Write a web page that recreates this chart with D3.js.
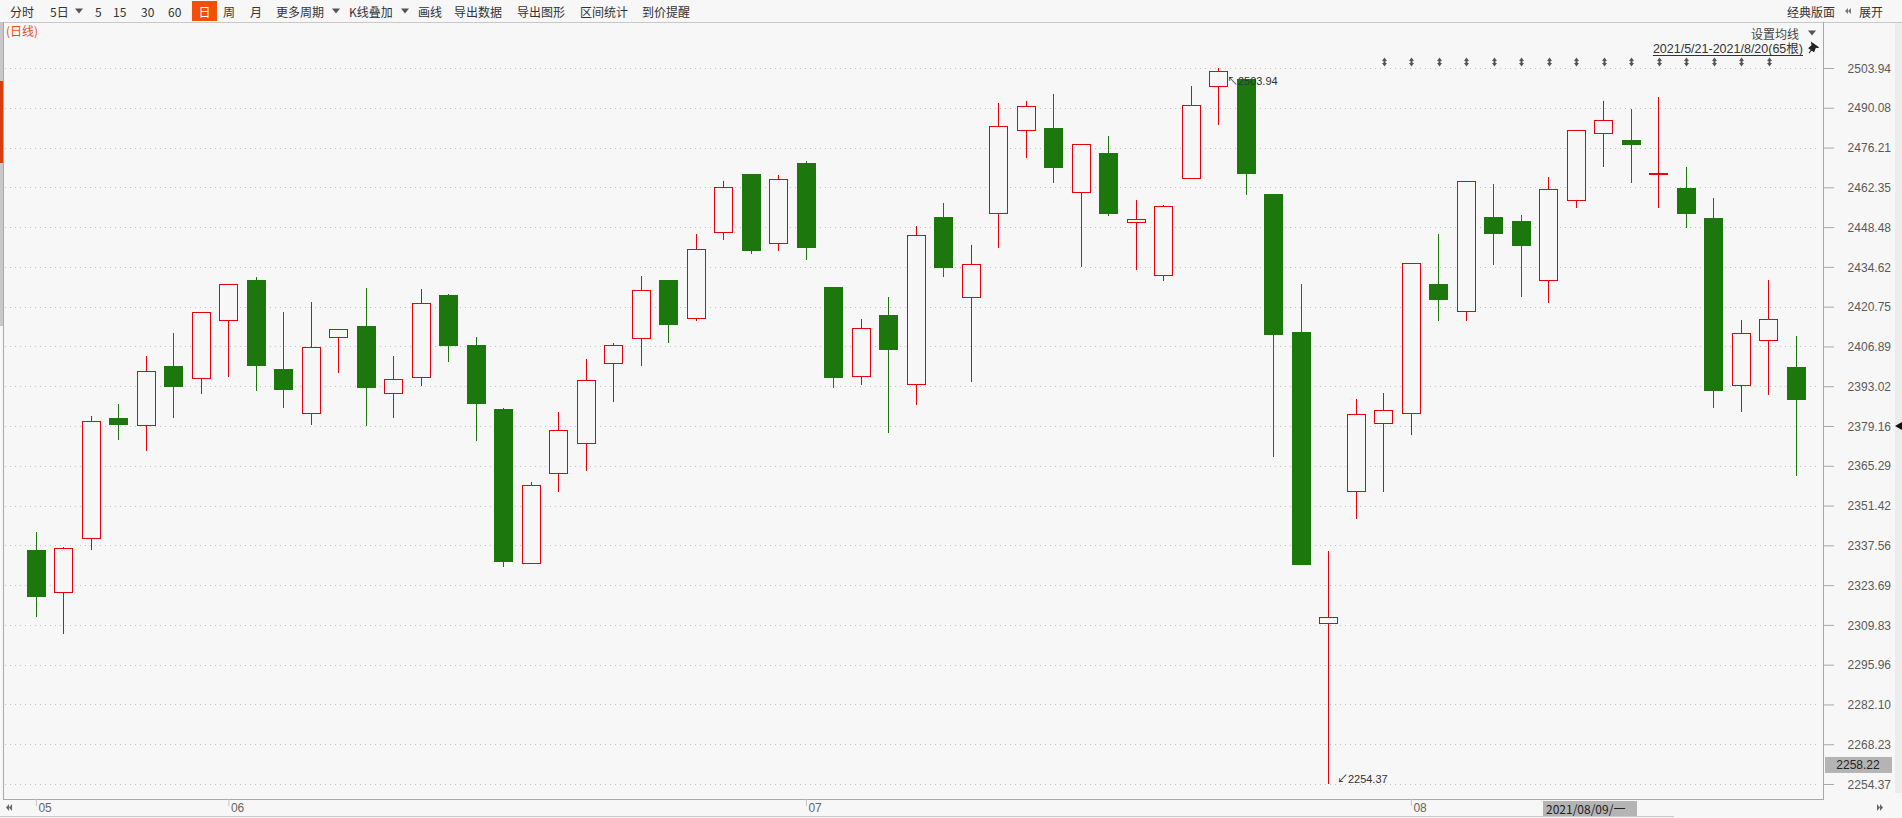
<!DOCTYPE html>
<html><head><meta charset="utf-8">
<script src="https://cdn.jsdelivr.net/npm/d3@7/dist/d3.min.js"></script>
<style>html,body{margin:0;padding:0;background:#f7f7f7;overflow:hidden}</style>
</head><body>
<svg id="c" width="1902" height="818"></svg>
<script>
// ---------------- DATA ----------------
const dates = [
 "2021-05-21","2021-05-24","2021-05-25","2021-05-26","2021-05-27","2021-05-28","2021-05-31",
 "2021-06-01","2021-06-02","2021-06-03","2021-06-04","2021-06-07","2021-06-08","2021-06-09","2021-06-10","2021-06-11",
 "2021-06-15","2021-06-16","2021-06-17","2021-06-18","2021-06-21","2021-06-22","2021-06-23","2021-06-24","2021-06-25",
 "2021-06-28","2021-06-29","2021-06-30",
 "2021-07-01","2021-07-02","2021-07-05","2021-07-06","2021-07-07","2021-07-08","2021-07-09",
 "2021-07-12","2021-07-13","2021-07-14","2021-07-15","2021-07-16","2021-07-19","2021-07-20","2021-07-21","2021-07-22","2021-07-23",
 "2021-07-26","2021-07-27","2021-07-28","2021-07-29","2021-07-30",
 "2021-08-02","2021-08-03","2021-08-04","2021-08-05","2021-08-06","2021-08-09","2021-08-10","2021-08-11","2021-08-12","2021-08-13",
 "2021-08-16","2021-08-17","2021-08-18","2021-08-19","2021-08-20"
];
const openV  = [2335.9,2321.0,2339.6,2381.8,2379.3,2400.0,2395.5,2415.6,2430.0,2399.1,2383.4,2409.7,2413.9,2390.3,2396.0,2424.7,
                2407.3,2385.0,2331.0,2362.4,2373.0,2400.6,2409.5,2430.0,2416.3,2446.5,2466.9,2442.5,2470.8,2427.6,2396.4,2417.8,
                2393.6,2451.9,2423.9,2453.1,2482.1,2483.0,2460.2,2474.2,2450.0,2431.5,2465.4,2497.3,2500.0,2460.0,2411.9,2310.0,
                2356.3,2380.0,2383.5,2428.6,2419.0,2451.9,2450.5,2429.8,2457.7,2481.0,2478.9,2467.4,2462.0,2451.6,2393.1,2408.8,2399.7];
const highV  = [2342.2,2337.0,2382.5,2386.7,2403.4,2411.5,2418.8,2428.8,2431.0,2418.8,2422.4,2413.1,2427.3,2403.4,2426.9,2425.1,
                2410.2,2385.4,2359.7,2384.0,2402.4,2408.0,2431.3,2430.0,2446.0,2464.7,2466.9,2466.6,2471.5,2427.6,2416.3,2424.0,
                2448.9,2456.8,2442.1,2491.9,2492.3,2494.8,2477.6,2480.1,2457.8,2456.1,2497.8,2503.94,2500.0,2460.0,2428.6,2335.5,
                2388.6,2390.6,2436.0,2446.0,2464.6,2463.4,2452.6,2465.9,2482.5,2492.3,2489.7,2494.0,2469.3,2458.8,2416.1,2430.0,2410.5];
const lowV   = [2312.6,2306.5,2336.1,2374.2,2370.5,2382.0,2390.4,2396.2,2391.3,2385.6,2379.6,2397.7,2379.0,2382.0,2393.2,2401.3,
                2374.1,2330.1,2331.0,2356.3,2363.6,2387.5,2400.2,2408.2,2415.6,2444.1,2439.2,2440.3,2437.0,2392.5,2393.6,2376.8,
                2386.5,2431.1,2394.6,2441.3,2472.7,2463.7,2434.7,2452.4,2433.7,2429.8,2465.4,2484.0,2459.7,2368.5,2330.8,2254.37,
                2346.8,2356.3,2375.9,2415.8,2415.6,2435.2,2424.2,2421.9,2455.3,2469.5,2463.9,2455.0,2448.2,2385.5,2383.9,2390.1,2361.7];
const closeV = [2319.4,2336.7,2381.0,2379.6,2398.4,2392.8,2418.8,2428.8,2400.2,2391.8,2406.8,2413.1,2392.5,2395.7,2421.9,2407.2,
                2386.9,2331.8,2358.7,2377.9,2395.3,2407.5,2426.4,2414.3,2440.9,2462.5,2440.3,2465.1,2441.3,2396.0,2413.4,2405.8,
                2445.8,2434.3,2435.7,2483.8,2490.8,2469.1,2477.6,2453.1,2451.4,2455.8,2491.1,2503.0,2467.1,2411.0,2330.8,2312.6,
                2383.5,2384.8,2436.0,2422.9,2464.6,2446.2,2441.9,2461.9,2482.5,2485.9,2477.2,2467.4,2453.1,2391.4,2411.7,2416.3,2388.1];
const yTickLabels = ["2503.94","2490.08","2476.21","2462.35","2448.48","2434.62","2420.75","2406.89","2393.02","2379.16",
                     "2365.29","2351.42","2337.56","2323.69","2309.83","2295.96","2282.10","2268.23","2254.37"];
const monthTickDates  = ["2021-05-21","2021-06-01","2021-07-01","2021-08-02"];
const monthTickLabels = ["05","06","07","08"];
const markerDates = ["2021-07-30","2021-08-02","2021-08-03","2021-08-04","2021-08-05","2021-08-06","2021-08-09","2021-08-10",
                     "2021-08-11","2021-08-12","2021-08-13","2021-08-16","2021-08-17","2021-08-18","2021-08-19"];
const toolbarItems = ["分时","5日","▼","5","15","30","60","日","周","月","更多周期","▼","K线叠加","▼","画线","导出数据","导出图形","区间统计","到价提醒"];
const periodLabel = "(日线)";
const rangeLabel = "2021/5/21-2021/8/20(65根)";
const maLabel = "设置均线";
const rightButtons = ["经典版面","展开"];
const crossValue = 2258.22, crossDate = "2021-08-09", crossDateLabel = "2021/08/09/一";
const sideMarkValue = 2379.16;

// ---------------- DRAW ----------------
const W = 1902, H = 818;
const CN = '"Microsoft YaHei","Noto Sans CJK SC","Noto Sans",sans-serif';
const NUM = '"Liberation Sans",Arial,"Noto Sans CJK SC",sans-serif';
const RED = "#e8000b", GREEN = "#1c780c", BG = "#f7f7f7";
const svg = d3.select("#c");
svg.append("rect").attr("width", W).attr("height", H).attr("fill", BG);

const x = d3.scaleBand().domain(dates).range([22.65, 1810.15]).paddingInner(0.31).paddingOuter(0.155);
const yMin = d3.min(lowV), yMax = d3.max(highV);
const y = d3.scaleLinear().domain([yMin, yMax]).range([784, 68]);
const cxOf = d => x(d) + x.bandwidth() / 2;

// toolbar
const tbX = [10,50,79,95,113,141,168,204.5,223,250,276,336,349,405,418,454,517,580,642];
const tb = svg.append("g");
tb.append("rect").attr("x", 192).attr("y", 1).attr("width", 25).attr("height", 20).attr("fill", "#f0500a");
toolbarItems.forEach((t, i) => {
  if (t === "▼") {
    const cx = tbX[i];
    tb.append("path").attr("d", `M${cx-4},8.5 L${cx+4},8.5 L${cx},13.5 Z`).attr("fill", "#555");
  } else {
    tb.append("text").attr("x", tbX[i]).attr("y", 11).attr("dominant-baseline", "central")
      .attr("text-anchor", t === "日" ? "middle" : "start")
      .attr("fill", t === "日" ? "#fff" : "#333").style("font", `12px ${CN}`).text(t);
  }
});
tb.append("text").attr("x", 1835).attr("y", 11).attr("dominant-baseline", "central").attr("text-anchor", "end")
  .attr("fill", "#333").style("font", `12px ${CN}`).text(rightButtons[0]);
tb.append("path").attr("d", "M1848,8 L1845,11 L1848,14 Z M1851,8 L1848,11 L1851,14 Z").attr("fill", "#777");
tb.append("text").attr("x", 1859).attr("y", 11).attr("dominant-baseline", "central")
  .attr("fill", "#333").style("font", `12px ${CN}`).text(rightButtons[1]);
svg.append("line").attr("x1", 0).attr("x2", W).attr("y1", 22.5).attr("y2", 22.5).attr("stroke", "#c8c8c8");

// left side strip
svg.append("rect").attr("x", 0).attr("y", 23).attr("width", 3).attr("height", 303).attr("fill", "#c8c8c8");
svg.append("rect").attr("x", 0).attr("y", 81).attr("width", 3).attr("height", 82).attr("fill", "#d6400e");
// right scroll strip
svg.append("rect").attr("x", 1895).attr("y", 23).attr("width", 7).attr("height", 770).attr("fill", "#ececec");

// gridlines
const grid = svg.append("g");
yTickLabels.forEach(t => {
  const yy = Math.round(y(+t)) + 0.5;
  grid.append("line").attr("x1", 5).attr("x2", 1819).attr("y1", yy).attr("y2", yy)
    .attr("stroke", "#c2c2c2").attr("stroke-dasharray", "1,4");
});

// frame
svg.append("line").attr("x1", 3.5).attr("x2", 3.5).attr("y1", 22).attr("y2", 800).attr("stroke", "#a8a8a8");
svg.append("line").attr("x1", 1823.5).attr("x2", 1823.5).attr("y1", 22).attr("y2", 800).attr("stroke", "#a8a8a8");
svg.append("line").attr("x1", 3).attr("x2", 1824).attr("y1", 799.5).attr("y2", 799.5).attr("stroke", "#a8a8a8");
svg.append("line").attr("x1", 0).attr("x2", 1674).attr("y1", 816.5).attr("y2", 816.5).attr("stroke", "#c8c8c8");

// y axis
const yAxis = d3.axisRight(y).tickValues(yTickLabels.map(Number)).tickSize(11)
  .tickFormat(d => yTickLabels.find(t => +t === d));
const gy = svg.append("g").attr("transform", "translate(1823,0)").call(yAxis);
gy.select(".domain").remove();
gy.selectAll(".tick line").attr("stroke", "#a8a8a8");
gy.selectAll(".tick text").attr("x", 68).attr("text-anchor", "end").attr("dy", "0.35em")
  .attr("fill", "#5a5a5a").style("font", `12px ${NUM}`);

// x axis
const xAxis = d3.axisBottom(x).tickValues(monthTickDates).tickSize(7)
  .tickFormat(d => monthTickLabels[monthTickDates.indexOf(d)]);
const gx = svg.append("g").attr("transform", "translate(0,799)").call(xAxis);
gx.select(".domain").remove();
gx.selectAll(".tick line").attr("stroke", "#c4c4c4");
gx.selectAll(".tick text").attr("x", 2).attr("y", 8.5).attr("dy", "0.35em").attr("text-anchor", "start")
  .attr("fill", "#666").style("font", `12px ${NUM}`);
// nav arrows bottom
svg.append("path").attr("d", "M9,804 L6,807.5 L9,811 Z M12,804 L9,807.5 L12,811 Z").attr("fill", "#666");
svg.append("path").attr("d", "M1877,804 L1880,807.5 L1877,811 Z M1880,804 L1883,807.5 L1880,811 Z").attr("fill", "#666");

// candles
const cg = svg.append("g");
dates.forEach((d, i) => {
  const o = openV[i], c = closeV[i], h = highV[i], l = lowV[i];
  const up = c >= o;
  const left = Math.round(x(d));
  const wx = left + 9.5;
  const yTop = Math.round(y(Math.max(o, c)));
  const yBot = Math.round(y(Math.min(o, c)));
  const col = up ? RED : GREEN;
  cg.append("line").attr("x1", wx).attr("x2", wx).attr("y1", Math.round(y(h))).attr("y2", yTop).attr("stroke", col);
  cg.append("line").attr("x1", wx).attr("x2", wx).attr("y1", yBot).attr("y2", Math.round(y(l))).attr("stroke", col);
  if (up) {
    cg.append("rect").attr("x", left + 0.5).attr("y", yTop + 0.5).attr("width", 18)
      .attr("height", Math.max(1, yBot - yTop - 1)).attr("fill", BG).attr("stroke", RED);
  } else {
    cg.append("rect").attr("x", left).attr("y", yTop).attr("width", 19)
      .attr("height", Math.max(2, yBot - yTop)).attr("fill", GREEN);
  }
});

// event markers
markerDates.forEach(d => {
  const cx = Math.round(cxOf(d)) + 0.5, yy = 62;
  svg.append("path").attr("d",
    `M${cx-2.5},${yy-1} L${cx},${yy-4.5} L${cx+2.5},${yy-1} Z M${cx-1},${yy-1} h2 v2 h-2 Z M${cx-2.5},${yy+1} L${cx},${yy+4.5} L${cx+2.5},${yy+1} Z`)
    .attr("fill", "#555");
});

// high / low annotations
const iMax = highV.indexOf(yMax), iMin = lowV.indexOf(yMin);
svg.append("text").attr("x", cxOf(dates[iMax]) + 8).attr("y", y(yMax) + 13).attr("dominant-baseline", "central")
  .attr("fill", "#333").style("font", `11px ${NUM}`).text("↖" + yMax.toFixed(2));
svg.append("text").attr("x", cxOf(dates[iMin]) + 8).attr("y", y(yMin) - 5).attr("dominant-baseline", "central")
  .attr("fill", "#333").style("font", `11px ${NUM}`).text("↙" + yMin.toFixed(2));

// MA setting & range label
svg.append("text").attr("x", 1799).attr("y", 33).attr("dominant-baseline", "central").attr("text-anchor", "end")
  .attr("fill", "#444").style("font", `12px ${CN}`).text(maLabel);
svg.append("path").attr("d", "M1808,30.5 L1816,30.5 L1812,35.5 Z").attr("fill", "#555");
const rl = svg.append("text").attr("x", 1803).attr("y", 49).attr("dominant-baseline", "central").attr("text-anchor", "end")
  .attr("fill", "#333").style("font", `12.5px ${NUM}`).text(rangeLabel);
const rlw = rl.node().getComputedTextLength();
svg.append("line").attr("x1", 1803 - rlw).attr("x2", 1803).attr("y1", 55.5).attr("y2", 55.5).attr("stroke", "#333");
// pin icon
svg.append("path").attr("d", "M1808,44 L1816,44 L1814,46 L1815,50 L1809,50 L1810,46 Z M1812,50 L1812,54")
  .attr("fill", "#222").attr("stroke", "#222").attr("stroke-width", 1)
  .attr("transform", "rotate(35,1812,49)");

// crosshair value labels
const cyv = y(crossValue) - 8;
svg.append("rect").attr("x", 1825).attr("y", cyv - 8).attr("width", 67).attr("height", 16).attr("fill", "#b4b4b4");
svg.append("text").attr("x", 1858).attr("y", cyv).attr("dominant-baseline", "central").attr("text-anchor", "middle")
  .attr("fill", "#222").style("font", `12px ${NUM}`).text(crossValue.toFixed(2));
const cdx = Math.round(cxOf(crossDate)) - 6;
svg.append("rect").attr("x", cdx).attr("y", 801).attr("width", 94).attr("height", 15).attr("fill", "#b4b4b4");
svg.append("text").attr("x", cdx + 3).attr("y", 808.5).attr("dominant-baseline", "central")
  .attr("fill", "#222").style("font", `12px ${CN}`).text(crossDateLabel);

// side marker triangle
const sy = Math.round(y(sideMarkValue));
svg.append("path").attr("d", `M1895,${sy} L1902,${sy-4} L1902,${sy+4} Z`).attr("fill", "#111");

// period label
svg.append("text").attr("x", 6).attr("y", 30).attr("dominant-baseline", "central")
  .attr("fill", "#e4501c").style("font", `12px ${CN}`).text(periodLabel);
</script>
</body></html>
